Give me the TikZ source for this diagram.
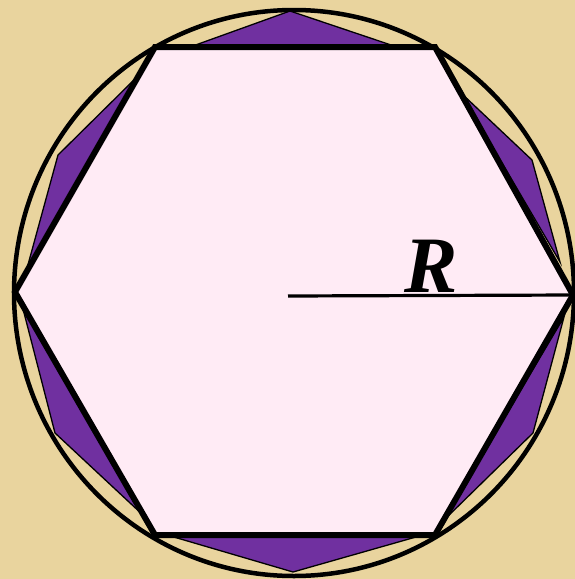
\documentclass[tikz,border=0pt]{standalone}
\usepackage{fontspec}
\setmainfont{Liberation Serif}
\definecolor{parch}{RGB}{233,212,158}
\definecolor{pinkfill}{RGB}{255,235,245}
\definecolor{purp}{RGB}{112,48,160}
\begin{document}
\begin{tikzpicture}[x=1pt,y=-1pt,
  segment/.style={fill=purp,draw=black,line width=1.3pt,line join=miter},
  hexa/.style={fill=pinkfill,draw=black,line width=6pt,line join=miter},
  rim/.style={draw=black,line width=4.5pt}]
\fill[parch] (0,0) rectangle (575,579);
\useasboundingbox (0,0) rectangle (575,579);
% circle
\coordinate (O) at (294,293);
\draw[rim] (294,293) ellipse [x radius=280, y radius=283];
% hexagon vertices
\coordinate (H1) at (15,292);
\coordinate (H2) at (155,47);
\coordinate (H3) at (435,47);
\coordinate (H4) at (573,295);
\coordinate (H5) at (435,535);
\coordinate (H6) at (155,535);
% purple segments
\draw[segment] (190,47) -- (290,11) -- (397,47) -- cycle;
\draw[segment] (461,93) -- (532,160) -- (560,262) -- cycle;
\draw[segment] (564,317) -- (533,433) -- (443,521) -- cycle;
\draw[segment] (167,535) -- (293,572) -- (423,535) -- cycle;
\draw[segment] (22,305) -- (55,433) -- (144,516) -- cycle;
\draw[segment] (26,272) -- (58,155) -- (140,74) -- cycle;
% hexagon
\draw[hexa] (H1) -- (H2) -- (H3) -- (H4) -- (H5) -- (H6) -- cycle;
% radius
\coordinate (C) at (288,296);
\draw[line width=3.2pt] (C) -- (H4);
\node (Rlab) at (431,266) {\fontsize{80}{80}\selectfont\bfseries\itshape R};
\end{tikzpicture}
\end{document}
